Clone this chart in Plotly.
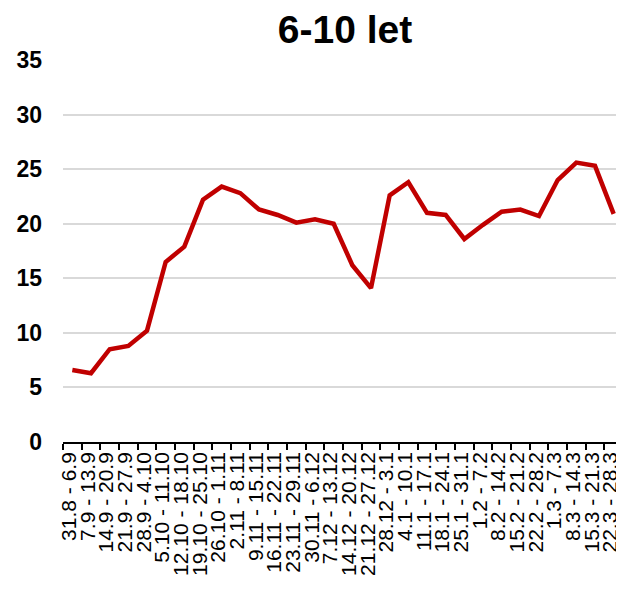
import plotly.graph_objects as go

categories = [
    "31.8 - 6.9", "7.9 - 13.9", "14.9 - 20.9", "21.9 - 27.9", "28.9 - 4.10",
    "5.10 - 11.10", "12.10 - 18.10", "19.10 - 25.10", "26.10 - 1.11", "2.11 - 8.11",
    "9.11 - 15.11", "16.11 - 22.11", "23.11 - 29.11", "30.11 - 6.12", "7.12 - 13.12",
    "14.12 - 20.12", "21.12 - 27.12", "28.12 - 3.1", "4.1 - 10.1", "11.1 - 17.1",
    "18.1 - 24.1", "25.1 - 31.1", "1.2 - 7.2", "8.2 - 14.2", "15.2 - 21.2",
    "22.2 - 28.2", "1.3 - 7.3", "8.3 - 14.3", "15.3 - 21.3", "22.3 - 28.3",
]
values = [
    6.6, 6.3, 8.5, 8.8, 10.2, 16.5, 17.9, 22.2, 23.4, 22.8,
    21.3, 20.8, 20.1, 20.4, 20.0, 16.2, 14.1, 22.6, 23.8, 21.0,
    20.8, 18.6, 19.9, 21.1, 21.3, 20.7, 24.0, 25.6, 25.3, 20.9,
]
y_ticks = [0, 5, 10, 15, 20, 25, 30, 35]

# page has an 8px body margin; figure occupies page (8,8)-(624,599)
W, H = 616, 591

fig = go.Figure(
    go.Scatter(
        x=categories, y=values, mode="lines",
        line=dict(color="#c00000", width=4.5),
        showlegend=False,
    )
)

fig.update_layout(
    width=W, height=H,
    margin=dict(l=55, r=1, t=52, b=157),
    paper_bgcolor="white", plot_bgcolor="white",
    title=dict(
        text="<b>6-10 let</b>",
        x=337 / W, xanchor="center", y=1 - 21 / H, yanchor="middle",
        font=dict(family="Liberation Sans, Arial", size=39, color="black"),
    ),
)

fig.update_xaxes(
    type="category",
    range=[-0.5, len(categories) - 0.5],
    tickmode="linear", dtick=1,
    tickangle=-90,
    tickfont=dict(family="Liberation Sans, Arial", size=21, color="black"),
    showline=True, linecolor="black", linewidth=1.5,
    ticks="outside", ticklen=6, tickcolor="black", tickwidth=1.5,
    tickson="boundaries",
    ticklabelshift=-3,
    showgrid=False,
    automargin=False,
)

fig.update_yaxes(
    range=[0, 35],
    tickvals=y_ticks,
    tickfont=dict(family="Liberation Sans, Arial", size=23, color="black", weight="bold"),
    showgrid=True, gridcolor="#d9d9d9", gridwidth=1.5,
    zeroline=False, showline=False,
    ticklabelstandoff=20,
    automargin=False,
)

fig.write_html("out.html")
